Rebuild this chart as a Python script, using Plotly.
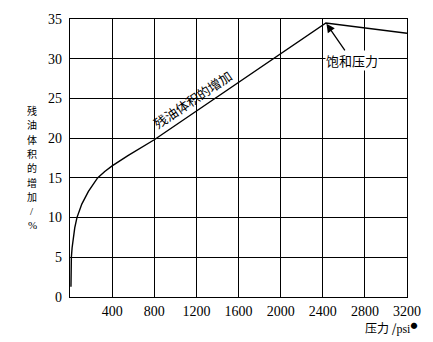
import plotly.graph_objects as go

# Data
pressure_psi = [9, 10, 13, 20, 28, 45, 66, 112, 175, 262, 330, 400, 550, 800, 2430, 3200]
volume_increase = [1.3, 3.3, 5.0, 6.2, 7.1, 8.7, 10.0, 11.7, 13.3, 15.0, 15.8, 16.5, 17.8, 19.8, 34.5, 33.2]
x_ticks = [400, 800, 1200, 1600, 2000, 2400, 2800, 3200]
y_ticks = [0, 5, 10, 15, 20, 25, 30, 35]

cjk = "Noto Sans CJK SC"
serif = "Liberation Serif"

fig = go.Figure()
fig.add_trace(go.Scatter(x=pressure_psi, y=volume_increase, mode="lines",
                         line=dict(color="black", width=1.4),
                         showlegend=False, hoverinfo="skip"))

fig.update_layout(
    width=433, height=342,
    margin=dict(l=70, r=22, t=14, b=45),
    paper_bgcolor="white", plot_bgcolor="white",
    font=dict(family=serif, size=14, color="black"),
    xaxis=dict(range=[0, 3200], tickvals=x_ticks, ticktext=[str(v) for v in x_ticks],
               showgrid=True, gridcolor="black", gridwidth=1,
               showline=True, linecolor="black", linewidth=1.2, mirror=True,
               zeroline=False, ticks="", ticklabelstandoff=1,
               tickfont=dict(family=serif, size=14)),
    yaxis=dict(range=[0, 35], tickvals=y_ticks, ticktext=[str(v) for v in y_ticks],
               showgrid=True, gridcolor="black", gridwidth=1,
               showline=True, linecolor="black", linewidth=1.2, mirror=True,
               zeroline=False, ticks="", ticklabelstandoff=4,
               tickfont=dict(family=serif, size=14)),
)

# curve label along the line
fig.add_annotation(x=1160, y=24.9, xref="x", yref="y", text="残油体积的增加",
                   showarrow=False, textangle=-34,
                   font=dict(family=cjk, size=13, color="black"))

# saturation pressure annotation
fig.add_annotation(x=2430, y=34.5, xref="x", yref="y",
                   ax=2676, ay=29.8, axref="x", ayref="y",
                   text="饱和压力", showarrow=True, arrowhead=2, arrowsize=1.3,
                   arrowwidth=1.3, arrowcolor="black", standoff=1,
                   font=dict(family=cjk, size=13, color="black"), bgcolor="white", borderpad=0)

# y-axis title (vertical stacked characters)
ytitle_chars = list("残油体积的增加/%")
plot_top, plot_bottom = 14, 297
for i, ch in enumerate(ytitle_chars):
    py = 107 + 14.6 * i
    fig.add_annotation(xref="paper", yref="paper",
                       x=(32 - 70) / 341, y=(plot_bottom - py) / (plot_bottom - plot_top),
                       xanchor="center", yanchor="middle", text=ch, showarrow=False,
                       borderpad=0,
                       font=dict(family=cjk if ch not in "/%" else serif, size=10 if ch not in "/%" else 11,
                                 color="black"))

# x-axis title
fig.add_annotation(xref="paper", yref="paper", x=1.035, y=(297 - 328) / 283,
                   xanchor="right", yanchor="middle",
                   text="压力 /<span style='font-family:Liberation Serif'>psi</span>"
                        "<sup><span style='font-size:7px'>●</span></sup>",
                   showarrow=False,
                   font=dict(family=cjk, size=12, color="black"))

fig.write_html("out.html")
